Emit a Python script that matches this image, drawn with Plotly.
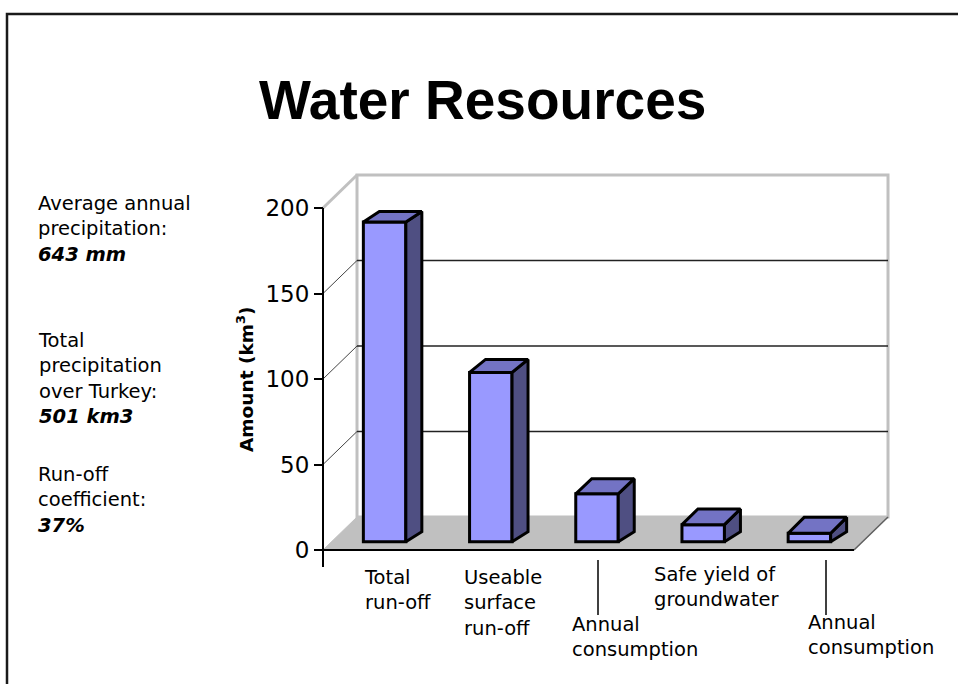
import plotly.graph_objects as go

# ---- data -------------------------------------------------------------
categories = [
    "Total<br>run-off",
    "Useable<br>surface<br>run-off",
    "Annual<br>consumption",
    "Safe yield of<br>groundwater",
    "Annual<br>consumption",
]
amounts = [187, 99, 28, 10, 5]          # km3
y_ticks = [0, 50, 100, 150, 200]
note_labels = [
    "Average annual<br>precipitation:",
    "Total<br>precipitation<br>over Turkey:",
    "Run-off<br>coefficient:",
]
note_values = ["643 mm", "501 km3", "37%"]

# ---- geometry of the 3-D box ------------------------------------------
W, H = 958, 684
PX_CAT = 106.2        # pixels per category slot
PX_VAL = 1.71         # pixels per km3
X0_PX, Y0_PX = 323, 550   # front-left floor corner on the page
x_range = [-X0_PX / PX_CAT, (W - X0_PX) / PX_CAT]
y_range = [-(H - Y0_PX) / PX_VAL, Y0_PX / PX_VAL]

DEPTH_X = 34 / PX_CAT     # oblique shift of the back wall
DEPTH_Y = 33 / PX_VAL
N = len(categories)
TOP = max(y_ticks)

BAR_W = 0.40              # bar width in category units
BAR_D = 0.25              # depth of bar front face inside the box
BAR_DX = 16 / PX_CAT      # bar depth (side face)
FONT = "DejaVu Sans"
TEXT_SIZE = 19.5


def proj(c, v, d):
    """Project (category, value, depth) into the flat axis units."""
    return c + d * DEPTH_X, v + d * DEPTH_Y


def bar_top_dy(v):
    return (16 - 0.03 * v) / PX_VAL


def path(points):
    return "M " + " L ".join(f"{x:.4f},{y:.4f}" for x, y in points) + " Z"


def xpx(px):
    return (px - X0_PX) / PX_CAT


def ypx(py):
    return (Y0_PX - py) / PX_VAL


shapes = []
# back wall
shapes.append(dict(type="path", xref="x", yref="y", layer="below",
                   path=path([proj(0, 0, 1), proj(N, 0, 1), proj(N, TOP, 1), proj(0, TOP, 1)]),
                   fillcolor="white", line=dict(color="#c0c0c0", width=3)))
# left wall top edge
(ax, ay), (bx, by) = proj(0, TOP, 0), proj(0, TOP, 1)
shapes.append(dict(type="line", xref="x", yref="y", layer="below",
                   x0=ax, y0=ay, x1=bx, y1=by, line=dict(color="#c0c0c0", width=3)))
# floor
shapes.append(dict(type="path", xref="x", yref="y", layer="below",
                   path=path([proj(0, 0, 0), proj(N, 0, 0), proj(N, 0, 1), proj(0, 0, 1)]),
                   fillcolor="#c0c0c0", line=dict(color="#c0c0c0", width=1)))
(ax, ay), (bx, by) = proj(N, 0, 0), proj(N, 0, 1)
shapes.append(dict(type="line", xref="x", yref="y", layer="below",
                   x0=ax, y0=ay, x1=bx, y1=by, line=dict(color="#606060", width=1.5)))
# gridlines on back wall and left wall
for v in y_ticks[1:-1]:
    (ax, ay), (bx, by) = proj(0, v, 1), proj(N, v, 1)
    shapes.append(dict(type="line", xref="x", yref="y", layer="below",
                       x0=ax, y0=ay, x1=bx, y1=by, line=dict(color="#222222", width=1.5)))
    (ax, ay), (bx, by) = proj(0, v, 0), proj(0, v, 1)
    shapes.append(dict(type="line", xref="x", yref="y", layer="below",
                       x0=ax, y0=ay, x1=bx, y1=by, line=dict(color="#444444", width=1)))
# value axis line and category axis line
shapes.append(dict(type="line", xref="x", yref="y", layer="below",
                   x0=0, y0=TOP, x1=0, y1=ypx(567), line=dict(color="black", width=2)))
shapes.append(dict(type="line", xref="x", yref="y", layer="below",
                   x0=0, y0=0, x1=N, y1=0, line=dict(color="black", width=2)))

# outer frame
shapes.append(dict(type="rect", xref="paper", yref="paper",
                   x0=7 / W, x1=1.05, y0=-0.05, y1=1 - 14 / H,
                   line=dict(color="#1a1a1a", width=2.5)))

# ---- bars -------------------------------------------------------------
bar_x = [i + 0.5 + BAR_D * DEPTH_X for i in range(N)]
bar_base = BAR_D * DEPTH_Y

fig = go.Figure()
fig.add_trace(go.Bar(
    x=bar_x, y=amounts, base=bar_base, width=BAR_W,
    marker=dict(color="#9999ff", line=dict(color="black", width=3)),
    hoverinfo="skip", showlegend=False,
))

for xc, v in zip(bar_x, amounts):
    xl, xr = xc - BAR_W / 2, xc + BAR_W / 2
    top = bar_base + v
    dyt = bar_top_dy(v)
    dyb = 10 / PX_VAL
    side = [(xr, bar_base), (xr, top), (xr + BAR_DX, top + dyt), (xr + BAR_DX, bar_base + dyb), (xr, bar_base)]
    lid = [(xl, top), (xr, top), (xr + BAR_DX, top + dyt), (xl + BAR_DX, top + dyt), (xl, top)]
    for pts, col in ((side, "#4f4f82"), (lid, "#7373c4")):
        fig.add_trace(go.Scatter(
            x=[p[0] for p in pts], y=[p[1] for p in pts],
            mode="lines", fill="toself", fillcolor=col,
            line=dict(color="black", width=3),
            hoverinfo="skip", showlegend=False,
        ))

# ---- category labels (every other one staggered with a leader) -------
label_left_px = [362, 462, 570, 652, 806]
label_mid_px = [590, 603, 637, 587, 635]
leader_px = {2: 598, 4: 826}
annotations = []
for i, txt in enumerate(categories):
    annotations.append(dict(
        x=xpx(label_left_px[i]), y=ypx(label_mid_px[i]), xref="x", yref="y",
        text=txt, showarrow=False, xanchor="left", yanchor="middle", align="left",
        font=dict(family=FONT, size=TEXT_SIZE, color="black"),
    ))
for i, px in leader_px.items():
    shapes.append(dict(type="line", xref="x", yref="y",
                       x0=xpx(px), x1=xpx(px), y0=ypx(560), y1=ypx(615),
                       line=dict(color="black", width=1.5)))

# ---- side notes -------------------------------------------------------
note_mid_px = [229, 378, 500]
for lab, val, py in zip(note_labels, note_values, note_mid_px):
    annotations.append(dict(
        x=36 / W, y=1 - py / H, xref="paper", yref="paper",
        text=f"{lab}<br><b><i>{val}</i></b>", showarrow=False,
        xanchor="left", yanchor="middle", align="left",
        font=dict(family=FONT, size=TEXT_SIZE, color="black"),
    ))

# title and value-axis title
annotations.append(dict(
    x=482 / W, y=1 - 100 / H, xref="paper", yref="paper",
    text="<b>Water Resources</b>", showarrow=False,
    xanchor="center", yanchor="middle",
    font=dict(family="Liberation Sans", size=55, color="black"),
))
annotations.append(dict(
    x=245 / W, y=1 - 380 / H, xref="paper", yref="paper",
    text="<b>Amount (km<sup>3</sup>)</b>", showarrow=False, textangle=-90,
    xanchor="center", yanchor="middle",
    font=dict(family=FONT, size=18.5, color="black"),
))

fig.update_layout(
    width=W, height=H,
    margin=dict(l=0, r=0, t=0, b=0, pad=0),
    paper_bgcolor="white", plot_bgcolor="white",
    showlegend=False,
    shapes=shapes, annotations=annotations,
    xaxis=dict(range=x_range, visible=False, fixedrange=True),
    yaxis=dict(
        range=y_range, anchor="free", position=X0_PX / W,
        tickvals=y_ticks, ticks="outside", ticklen=9, tickwidth=2, tickcolor="black",
        showline=False, showgrid=False, zeroline=False, fixedrange=True,
        tickfont=dict(family=FONT, size=23, color="black"),
    ),
)

fig.write_html("out.html")
